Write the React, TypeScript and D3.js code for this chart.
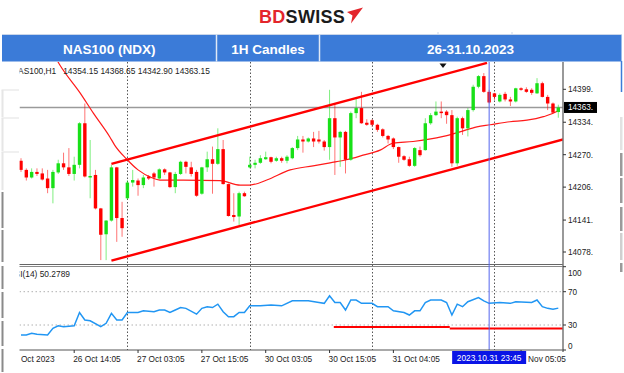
import React from "react";
import * as d3 from "d3";

// ---------- DATA ----------
const opens = [14258,14240,14225,14236,14233,14223,14204,14235,14253,14245,14232,14250,14332,14225,14230,14164,14113,14140,14245,14145,14184,14215,14219,14210,14227,14233,14223,14241,14235,14206,14232,14256,14245,14236,14193,14245,14261,14252,14281,14212,14151,14148,14194,14245,14250,14254,14261,14265,14258,14263,14258,14263,14283,14300,14296,14302,14300,14296,14285,14342,14304,14315,14260,14352,14362,14333,14338,14329,14320,14307,14302,14285,14267,14261,14248,14279,14279,14332,14348,14355,14355,14348,14253,14342,14322,14358,14404,14425,14394,14391,14375,14390,14379,14375,14401,14399,14398,14391,14411,14384,14371,14354.15];
const highs = [14263,14243,14243,14243,14243,14240,14240,14260,14274,14283,14266,14334,14371,14299,14240,14165,14141,14250,14246,14177,14220,14240,14223,14230,14230,14236,14243,14243,14236,14236,14258,14258,14256,14240,14246,14276,14286,14322,14299,14213,14194,14197,14197,14266,14260,14269,14276,14266,14266,14266,14269,14285,14307,14307,14304,14315,14317,14299,14398,14371,14317,14317,14355,14381,14394,14340,14340,14331,14322,14309,14304,14286,14269,14266,14285,14286,14342,14352,14375,14375,14358,14358,14345,14345,14362,14408,14427,14431,14398,14392,14391,14394,14384,14402,14403,14403,14401,14421,14414,14388,14373,14368.65];
const lows = [14236,14219,14223,14228,14219,14194,14174,14232,14240,14228,14219,14243,14225,14184,14162,14062,14062,14138,14098,14108,14181,14207,14189,14204,14220,14207,14221,14230,14204,14194,14230,14233,14227,14187,14191,14236,14193,14250,14211,14148,14138,14131,14187,14243,14243,14252,14260,14253,14256,14254,14253,14261,14279,14274,14294,14285,14292,14278,14260,14230,14246,14233,14258,14342,14331,14327,14325,14315,14304,14292,14281,14254,14258,14246,14246,14266,14278,14329,14346,14342,14331,14246,14248,14309,14306,14355,14401,14392,14371,14378,14373,14375,14366,14373,14396,14392,14388,14390,14383,14358,14352,14342.9];
const closes = [14240,14225,14236,14232,14221,14204,14236,14253,14245,14232,14250,14332,14227,14228,14164,14112,14140,14245,14145,14125,14215,14220,14210,14225,14223,14225,14241,14235,14206,14232,14256,14246,14232,14189,14245,14261,14252,14281,14212,14149,14147,14194,14188,14250,14254,14263,14265,14256,14263,14258,14266,14283,14300,14296,14302,14296,14296,14285,14342,14304,14315,14260,14352,14362,14332,14329,14329,14319,14307,14300,14285,14266,14260,14248,14283,14269,14332,14348,14355,14352,14348,14253,14342,14322,14358,14404,14425,14394,14373,14384,14388,14379,14375,14401,14398,14394,14392,14411,14384,14371,14353,14363.15];

// moving average vertices (bar index, price)
const maIdx = [6.3,7.3,11.1,13.6,16.7,17.6,19.8,22,24.5,26.1,30.5,37.4,41.2,43,46.2,50.6,54.9,58.1,61.2,64.3,67.5,70,73.7,79.4,82.5,85.7,88.2,91.9,95.1,98.2,100.7,101];
const maVal = [14465,14447,14392,14352,14305,14289,14262,14240,14225,14220,14220,14219,14210,14210,14220,14240,14248,14254,14260,14269,14279,14293,14296,14306,14315,14325,14329,14335,14338,14345,14355,14357];

// RSI(14) vertices (bar index, value)
const rsiIdx = [0,1,2,3,5,6,7,8,10,11,12,13,15,16,17,18,19,20,22,23,25,26,27,28,29,30,31,33,34,35,36,37,38,39,40,41,42,43,45,47,49,51,54,56,57,58,59,60,61,62,63,64,66,67,69,70,72,73,74,75,76,77,79,80,81,82,83,84,86,87,88,90,92,93,96,97,98,99,100,101];
const rsiVal = [18,18,20,19,18,26,29,28,29,45,36,35,28,32,44,36,36,45,45,47,46,48,48,45,48,51,50,43,50,52,51,55,46,40,40,45,45,53,53,54,53,59,59,57,56,65,57,57,48,60,60,56,56,52,52,47,45,42,47,47,57,60,60,57,42,55,52,58,63,59,56,57,56,58,57,60,52,50,49,50.28];

// channel trend lines (bar index, price)
const upperChannel: [number, number][] = [[17, 14252], [87.6, 14451]];
const lowerChannel: [number, number][] = [[17, 14061], [101.9, 14300]];

// RSI horizontal segments
const rsiSegments = [
  { from: 58.8, to: 80.6, value: 27.5 },
  { from: 80.6, to: 101.9, value: 25.8 },
];

const priceTicks = [14399, 14334, 14270, 14206, 14141, 14078];
const priceTickLabels = ["14399.", "14334.", "14270.", "14206.", "14141.", "14078."];
const lastPrice = 14363.15;
const lastPriceLabel = "14363.";

const rsiTicks = [100, 70, 30, 0];
const rsiLevels = [70, 30];

// visible time labels (bar index of tick, text, text offset from tick)
const timeLabelIdx = [-2, 10, 22, 34, 46, 58, 70, 94];
const timeLabels = ["26 Oct 2023", "26 Oct 14:05", "27 Oct 03:05", "27 Oct 15:05", "30 Oct 03:05", "30 Oct 15:05", "31 Oct 04:05", "Nov 05:05"];
const timeLabelShift = [-1, -1, -1, -1, -1, -1, -1, 7];
const daySeparators = [20, 43, 66, 89];
const cursorBar = 88;
const cursorLabel = "2023.10.31 23:45";

const infoText = "NAS100,H1\u00A0\u00A0\u00A014354.15 14368.65 14342.90 14363.15";
const rsiText = "RSI(14) 50.2789";
const headerCells = ["NAS100 (NDX)", "1H Candles", "26-31.10.2023"];

// ---------- LAYOUT ----------
const W = 624, H = 373;
const L = 19.5, R = 563;
const mainTop = 62, mainBottom = 264;
const rsiTop = 267, rsiBottom = 350;
const FONT = "'Liberation Sans', Arial, sans-serif";
const BULL = "#18e018";
const BEAR = "#ff0000";

export default function App() {
  const n = opens.length;
  const x = d3.scaleLinear().domain([0, n - 1]).range([21, 558.3]);
  const y = d3.scaleLinear().domain([14078, 14399]).range([252, 89.3]);
  const yr = d3.scaleLinear().domain([0, 100]).range([rsiBottom, 266.7]);

  const maLine = d3.line<number>().x((_, i) => x(maIdx[i])).y((d) => y(d)).curve(d3.curveMonotoneX)(maVal) || "";
  const rsiLine = d3.line<number>().x((_, i) => x(rsiIdx[i])).y((d) => yr(d))(rsiVal) || "";
  const chLine = (pts: [number, number][]) => d3.line<[number, number]>().x((d) => x(d[0])).y((d) => y(d[1]))(pts) || "";

  const bodyW = 3.4;
  const cellEdges = [2, 216.5, 319.5, 621.5];

  return (
    <svg width={W} height={H} viewBox={`0 0 ${W} ${H}`} style={{ position: "absolute", left: 0, top: 0, display: "block", background: "#fff" }} fontFamily={FONT}>
      <defs>
        <clipPath id="mainClip"><rect x={L} y={mainTop} width={R - L} height={mainBottom - mainTop} /></clipPath>
        <clipPath id="rsiClip"><rect x={L} y={rsiTop} width={R - L} height={rsiBottom - rsiTop} /></clipPath>
        <clipPath id="leftClip"><rect x={L} y={0} width={W - L} height={H} /></clipPath>
      </defs>
      <rect x={0} y={0} width={W} height={H} fill="#fff" />

      {/* logo */}
      <text x={259} y={22.8} fontSize={18} fontWeight="bold" letterSpacing={0.3}>
        <tspan fill="#e3262c">BD</tspan><tspan fill="#1b1b1b">SWISS</tspan>
      </text>
      <polygon points="347,12 363,7.5 351,23.5 352.5,15.5" fill="#e3262c" />

      {/* header bar */}
      <rect x={2} y={34.5} width={619.5} height={27} fill="#3b7bd8" />
      <line x1={2} x2={621.5} y1={34.5} y2={34.5} stroke="#c9d6ea" strokeWidth={1} />
      {[438, 512].map((v) => <line key={v} x1={v} x2={v} y1={32} y2={35} stroke="#c9d6ea" />)}
      {[216.5, 319.5].map((v) => <line key={v} x1={v} x2={v} y1={34.5} y2={61.5} stroke="#dfe8f6" strokeWidth={1.5} />)}
      {headerCells.map((t, k) => (
        <text key={t} x={(cellEdges[k] + cellEdges[k + 1]) / 2} y={54} fill="#fff" fontSize={13.5} fontWeight="bold" textAnchor="middle">{t}</text>
      ))}
      <line x1={621.5} x2={621.5} y1={61} y2={92} stroke="#3b7bd8" strokeWidth={1.5} />

      {/* side decorations */}
      {[[90, 117, "#e6e6e6"], [118, 151, "#e6e6e6"], [152, 190, "#e6e6e6"], [192, 228, "#8a8a8a"], [230, 262, "#8a8a8a"], [266, 289, "#8a8a8a"], [292, 318, "#8a8a8a"], [321, 346, "#8a8a8a"], [349, 372, "#8a8a8a"]].map(([a, b, c], k) => (
        <rect key={"l" + k} x={1.5} y={a as number} width={2} height={(b as number) - (a as number)} fill={c as string} />
      ))}
      {[[90, 117], [118, 151], [152, 190]].map(([a], k) => (
        <line key={"lt" + k} x1={1.5} x2={19} y1={a} y2={a} stroke="#e6e6e6" strokeWidth={1.2} />
      ))}
      {[[117, 150, "#e2e2e2"], [153, 176, "#9a9a9a"], [178, 203, "#9a9a9a"], [207, 231, "#9a9a9a"], [233, 260, "#cfcfcf"], [263, 272, "#9a9a9a"]].map(([a, b, c], k) => (
        <rect key={"r" + k} x={620} y={a as number} width={2.5} height={(b as number) - (a as number)} fill={c as string} />
      ))}

      {/* grid: day separators */}
      {daySeparators.map((i) => (
        <line key={"d" + i} x1={Math.round(x(i)) + 0.5} x2={Math.round(x(i)) + 0.5} y1={mainTop} y2={rsiBottom} stroke="#555" strokeWidth={1} strokeDasharray="1.5,2" />
      ))}

      {/* main panel */}
      <g clipPath="url(#mainClip)">
        <line x1={L} x2={R} y1={y(lastPrice)} y2={y(lastPrice)} stroke="#9a9a9a" strokeWidth={1.6} />
        <path d={maLine} fill="none" stroke="#ff1a1a" strokeWidth={1.2} />
        {opens.map((o, i) => {
          const c = closes[i];
          const col = c >= o ? BULL : BEAR;
          const cx = x(i);
          const top = y(Math.max(o, c));
          const h = Math.max(1, Math.abs(y(o) - y(c)));
          return (
            <g key={i}>
              <line x1={cx} x2={cx} y1={y(highs[i])} y2={y(lows[i])} stroke={col} strokeOpacity={0.55} strokeWidth={1} />
              <rect x={cx - bodyW / 2} y={top} width={bodyW} height={h} fill={col} />
            </g>
          );
        })}
        <path d={chLine(upperChannel)} fill="none" stroke="#ff0000" strokeWidth={2.4} />
        <path d={chLine(lowerChannel)} fill="none" stroke="#ff0000" strokeWidth={2.4} />
      </g>
      <polygon points="439.5,63.5 446.5,63.5 443,68" fill="#111" />

      {/* info text */}
      <g clipPath="url(#leftClip)">
        <text x={12} y={74} fontSize={8.4} fill="#222">{infoText}</text>
        <text x={8.5} y={277} fontSize={8.4} fill="#222">{rsiText}</text>
      </g>

      {/* panel separator */}
      <line x1={L} x2={R} y1={264.5} y2={264.5} stroke="#666" strokeWidth={1.2} />
      <line x1={L} x2={R} y1={266.5} y2={266.5} stroke="#8a8a8a" strokeWidth={1.2} />

      {/* RSI panel */}
      <g clipPath="url(#rsiClip)">
        {rsiLevels.map((v) => (
          <line key={v} x1={L} x2={R} y1={yr(v)} y2={yr(v)} stroke="#b0b0b0" strokeWidth={1} strokeDasharray="1.5,2.5" />
        ))}
        <path d={rsiLine} fill="none" stroke="#2196f3" strokeWidth={1.5} />
        {rsiSegments.map((s, k) => (
          <line key={k} x1={x(s.from)} x2={x(s.to)} y1={yr(s.value)} y2={yr(s.value)} stroke="#ff0000" strokeWidth={2} />
        ))}
      </g>

      {/* cursor line */}
      <line x1={x(cursorBar)} x2={x(cursorBar)} y1={mainTop} y2={rsiBottom} stroke="#5566ee" strokeWidth={1} />

      {/* axes */}
      <line x1={R} x2={R} y1={mainTop} y2={rsiBottom + 2} stroke="#777" strokeWidth={1.5} />
      <line x1={L} x2={R} y1={rsiBottom} y2={rsiBottom} stroke="#555" strokeWidth={1} />
      {priceTicks.map((p, k) => (
        <g key={p}>
          <line x1={R} x2={R + 3} y1={y(p)} y2={y(p)} stroke="#333" />
          <text x={R + 5} y={y(p) + 3} fontSize={8.2} fill="#222">{priceTickLabels[k]}</text>
        </g>
      ))}
      <rect x={564} y={y(lastPrice) - 5.5} width={33} height={11} fill="#000" />
      <text x={R + 5} y={y(lastPrice) + 3} fontSize={8.2} fill="#fff">{lastPriceLabel}</text>

      {rsiTicks.map((v) => {
        const yy = v === 100 ? 273 : v === 0 ? 346 : yr(v);
        return (
          <g key={v}>
            <line x1={R} x2={R + 3} y1={yr(v)} y2={yr(v)} stroke="#333" />
            <text x={R + 5} y={yy + 3} fontSize={8.2} fill="#222">{v}</text>
          </g>
        );
      })}

      <g clipPath="url(#leftClip)">
        {timeLabelIdx.map((i, k) => (
          <g key={k}>
            <line x1={x(i)} x2={x(i)} y1={rsiBottom} y2={rsiBottom + 3} stroke="#333" />
            <text x={x(i) + timeLabelShift[k]} y={362} fontSize={8.3} fill="#222">{timeLabels[k]}</text>
          </g>
        ))}
      </g>
      <rect x={x(cursorBar) - 37} y={351} width={74} height={13} fill="#0a14e6" />
      <text x={x(cursorBar)} y={361} fontSize={8.3} fill="#fff" textAnchor="middle">{cursorLabel}</text>
    </svg>
  );
}
